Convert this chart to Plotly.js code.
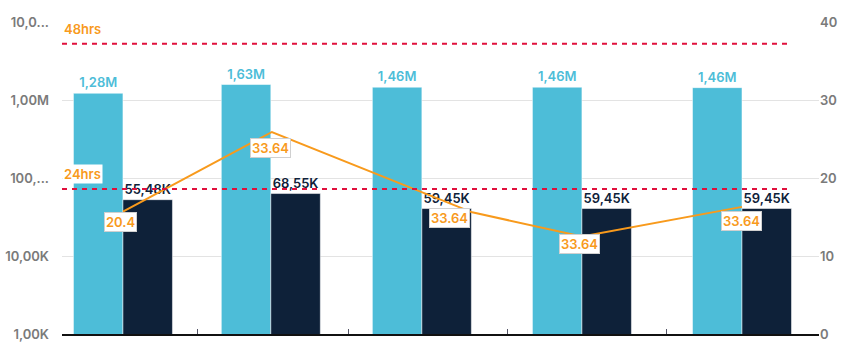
<!DOCTYPE html>
<html>
<head>
<meta charset="utf-8">
<script src="https://cdn.plot.ly/plotly-3.0.1.min.js"></script>
<style>html,body{margin:0;padding:0;background:#fff;}#chart{width:853px;height:359px;}</style>
</head>
<body>
<div id="chart"></div>
<script>
// ---- data ----
const periodCenters = [11.5, 39.4, 67.9, 98.1, 128.3];
const periodEdges = [0, 25.5, 54, 84, 114, 142.7];
const seriesA = [1220000, 1580000, 1460000, 1460000, 1440000];
const seriesALabels = ["1,28M", "1,63M", "1,46M", "1,46M", "1,46M"];
const seriesB = [52700, 63200, 40600, 40600, 40600];
const seriesBLabels = ["55,48K", "68,55K", "59,45K", "59,45K", "59,45K"];
const lineX = [11.5, 39.6, 77.4, 98.1, 128.3];
const lineY = [15.7, 25.9, 15.6, 12.5, 16.3];
const lineLabels = ["20.4", "33.64", "33.64", "33.64", "33.64"];
const thresholdValues = [37.2, 18.6];
const thresholdLabels = ["48hrs", "24hrs"];
const leftTickVals = [1e3, 1e4, 1e5, 1e6, 1e7];
const leftTickText = ["1,00K", "10,00K", "100,...", "1,00M", "10,0..."];
const rightTickVals = [0, 10, 20, 30, 40];

// ---- style ----
const LIGHT = "#4DBDD8", DARK = "#0E2139", ORANGE = "#F89A1C", RED = "#E0103C", GREY = "#7a7a7a";
const BAR_W = 9.34;
const FONT = "Inter, 'Open Sans', sans-serif";
const labelShift = [[-2, 10], [-1, 16], [-23, 6], [-2, 7], [0, 14]];

const traces = [
  {
    type: "bar", x: periodCenters, y: seriesA, width: BAR_W, offset: -BAR_W,
    marker: {color: LIGHT, line: {color: "rgba(255,255,255,0.5)", width: 1}},
    text: seriesALabels, textposition: "outside", constraintext: "none", cliponaxis: false,
    textfont: {family: FONT, size: 13, color: LIGHT, weight: 600},
    hoverinfo: "skip"
  },
  {
    type: "bar", x: periodCenters, y: seriesB, width: BAR_W, offset: 0,
    marker: {color: DARK, line: {color: "rgba(255,255,255,0.5)", width: 1}},
    text: seriesBLabels, textposition: "outside", constraintext: "none", cliponaxis: false,
    textfont: {family: FONT, size: 13, color: DARK, weight: 600},
    hoverinfo: "skip"
  },
  {
    type: "scatter", mode: "lines", x: lineX, y: lineY, yaxis: "y2",
    line: {color: ORANGE, width: 2}, hoverinfo: "skip"
  }
];

const shapes = thresholdValues.map(v => ({
  type: "line", xref: "x", yref: "y2",
  x0: periodEdges[0], x1: periodCenters[periodCenters.length - 1] + BAR_W,
  y0: v, y1: v, line: {color: RED, width: 2, dash: "5px,5px"}, layer: "above"
}));

const annotations = [];
thresholdValues.forEach((v, i) => {
  annotations.push({
    xref: "x", yref: "y2", x: periodEdges[0], y: v, xanchor: "left", yanchor: "bottom",
    yshift: 5, showarrow: false, text: thresholdLabels[i], bgcolor: "#fff", borderpad: 1,
    font: {family: FONT, size: 13, color: ORANGE, weight: 600}
  });
});
lineX.forEach((x, i) => {
  annotations.push({
    xref: "x", yref: "y2", x: x, y: lineY[i], xanchor: "center", yanchor: "middle",
    xshift: labelShift[i][0], yshift: -labelShift[i][1], showarrow: false,
    text: lineLabels[i], bgcolor: "#fff", bordercolor: "#d0d0d0", borderwidth: 1, borderpad: 1,
    font: {family: FONT, size: 13, color: ORANGE, weight: 600}
  });
});

const layout = {
  width: 853, height: 359,
  margin: {l: 62, r: 34, t: 22, b: 25},
  paper_bgcolor: "#fff", plot_bgcolor: "#fff",
  showlegend: false, barmode: "overlay",
  separators: ",.",
  font: {family: FONT, color: GREY},
  xaxis: {
    type: "linear", range: [0, 142.83], showgrid: false, zeroline: false,
    showline: true, linecolor: "#111", linewidth: 1.5,
    tickvals: periodEdges, ticks: "inside", ticklen: 5, tickcolor: "#556", tickwidth: 1,
    showticklabels: false, fixedrange: true
  },
  yaxis: {
    type: "log", range: [3, 7], tickvals: leftTickVals, ticktext: leftTickText,
    showgrid: true, gridcolor: "#e3e3e3", gridwidth: 1, zeroline: false, showline: false,
    ticks: "", ticklabelstandoff: 12,
    tickfont: {family: FONT, size: 13, color: GREY, weight: 600}
  },
  yaxis2: {
    overlaying: "y", side: "right", range: [0, 40], tickvals: rightTickVals,
    showgrid: false, zeroline: false, showline: false, ticks: "",
    tickfont: {family: FONT, size: 13, color: GREY, weight: 600}
  },
  shapes: shapes,
  annotations: annotations
};

Plotly.newPlot("chart", traces, layout, {staticPlot: true, displayModeBar: false});
</script>
</body>
</html>
